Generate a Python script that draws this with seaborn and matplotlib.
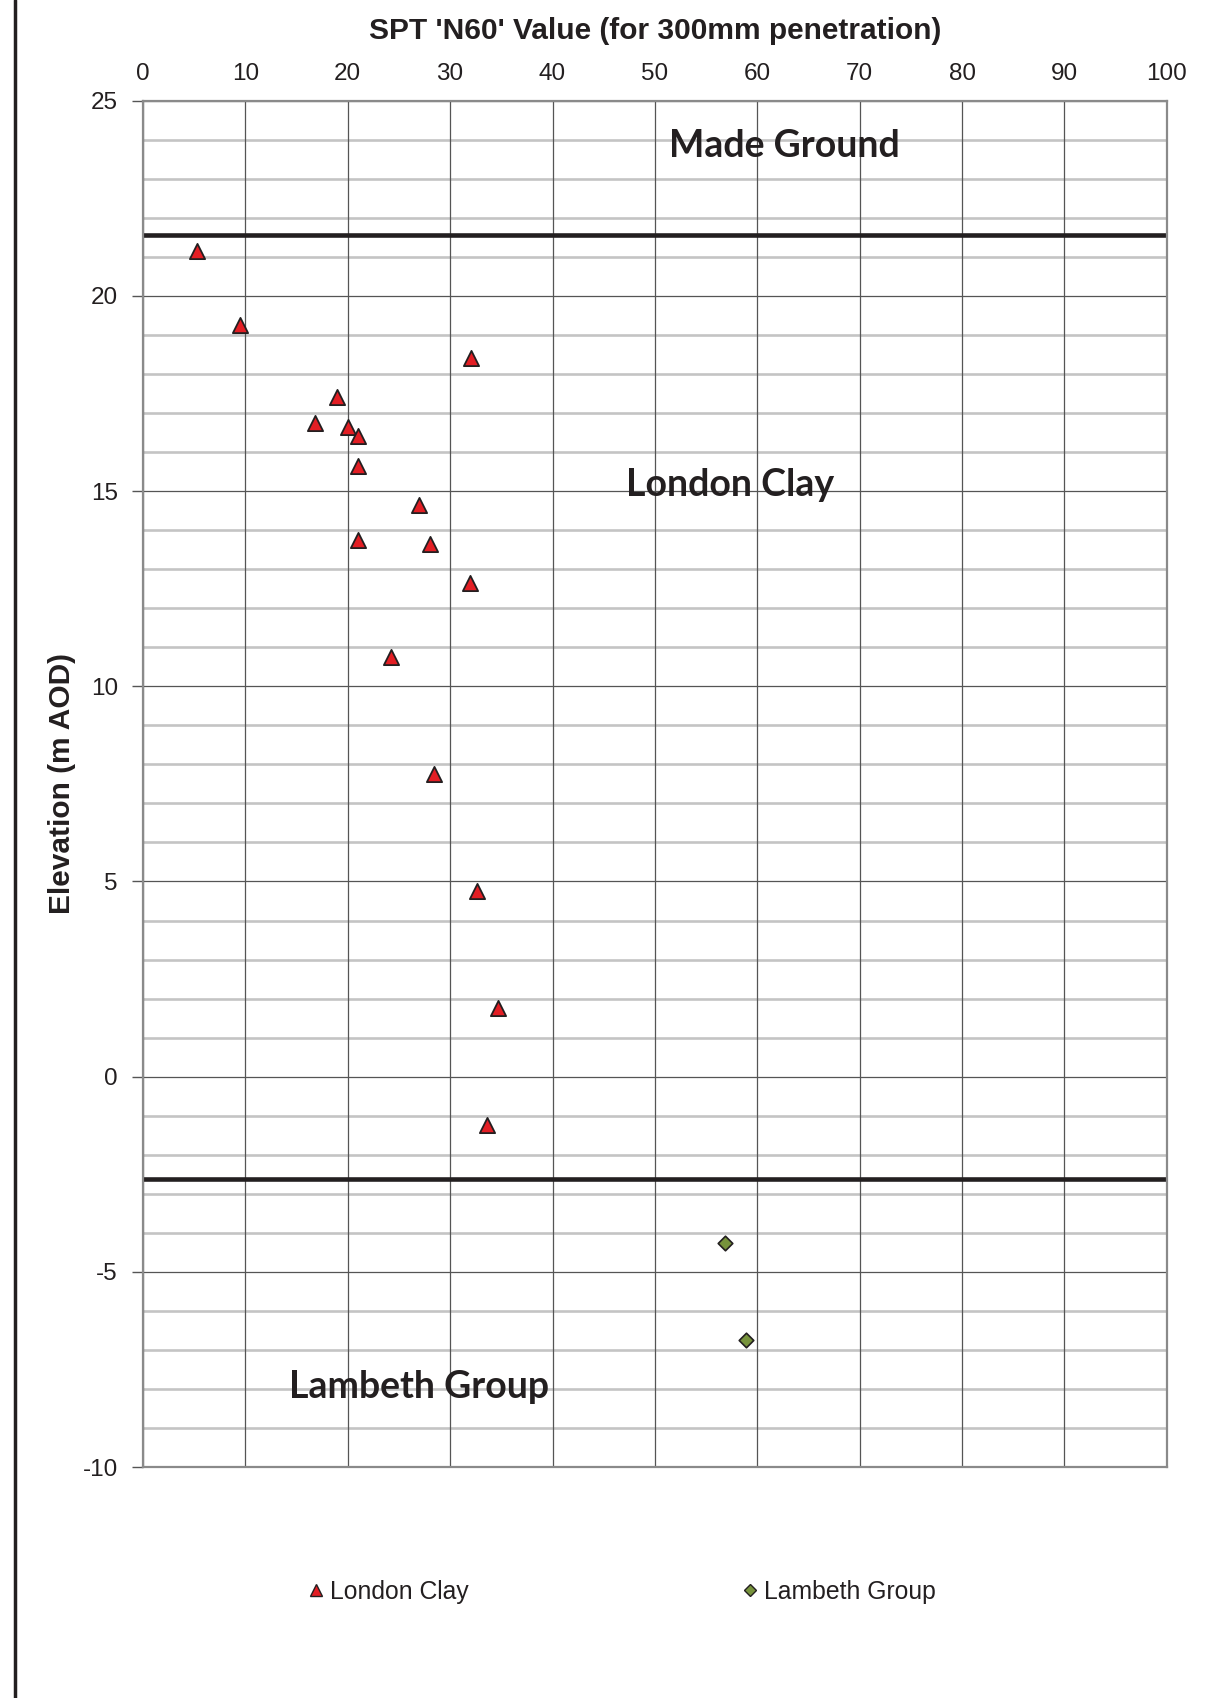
import matplotlib
matplotlib.use("Agg")
import matplotlib.pyplot as plt
from matplotlib.lines import Line2D
import seaborn as sns
import pandas as pd
import numpy as np

# ---- data ----
lc_n60 = [5.3, 9.5, 32.0, 19.0, 16.8, 20.0, 21.0, 21.0, 27.0, 21.0, 28.0, 31.9, 24.2, 28.4, 32.6, 34.7, 33.6]
lc_elev = [21.15, 19.25, 18.4, 17.4, 16.75, 16.65, 16.4, 15.65, 14.65, 13.75, 13.65, 12.65, 10.75, 7.75, 4.75, 1.75, -1.25]
lg_n60 = [56.8, 58.9]
lg_elev = [-4.25, -6.75]
boundary_elev = [21.55, -2.62]
strata_labels = ["Made Ground", "London Clay", "Lambeth Group"]
strata_label_x = [62.6, 57.3, 27.0]
strata_label_y = [23.85, 15.15, -7.95]
x_ticks = list(range(0, 101, 10))
y_ticks = list(range(-10, 26, 5))

sns.set_theme(style="white")
plt.rcParams['font.family'] = ['Liberation Sans', 'DejaVu Sans']
plt.rcParams['axes.unicode_minus'] = False

fig = plt.figure(figsize=(12.27, 16.98), dpi=100)
ax = fig.add_axes([0.1165, 0.136, 0.8345, 0.8047])

# gridlines
for y in range(-10, 26):
    if y % 5 == 0:
        ax.axhline(y, color="#555555", lw=0.9, zorder=1)
    else:
        ax.axhline(y, color="#c4c4c4", lw=1.9, zorder=1)
for x in x_ticks:
    ax.axvline(x, color="#555555", lw=0.9, zorder=1)

for b in boundary_elev:
    ax.axhline(b, color="#231f20", lw=3.3, zorder=2)

df_lc = pd.DataFrame({"N60": lc_n60, "Elevation": lc_elev, "Stratum": "London Clay"})
df_lg = pd.DataFrame({"N60": lg_n60, "Elevation": lg_elev, "Stratum": "Lambeth Group"})
sns.scatterplot(data=df_lc, x="N60", y="Elevation", marker="^", color="#e31e24",
                edgecolor="#231f20", linewidth=1.3, s=120, ax=ax, zorder=4, legend=False)
sns.scatterplot(data=df_lg, x="N60", y="Elevation", marker="D", color="#77933c",
                edgecolor="#231f20", linewidth=1.2, s=55, ax=ax, zorder=4, legend=False)

ax.set_xlim(0, 100)
ax.set_ylim(-10, 25)
ax.set_xticks(x_ticks)
ax.set_yticks(y_ticks)
ax.xaxis.tick_top()
ax.xaxis.set_label_position("top")
ax.tick_params(axis="x", length=0, labelsize=17.5, pad=11, colors="#231f20")
ax.tick_params(axis="y", left=True, length=8, width=1, color="#555555", labelsize=17.5, pad=10, labelcolor="#231f20")
ax.set_xlabel("SPT 'N60' Value (for 300mm penetration)", fontsize=21.5, fontweight="bold", labelpad=17.5, color="#231f20")
ax.set_ylabel("Elevation (m AOD)", fontsize=21.5, fontweight="bold", labelpad=5, color="#231f20")
for s in ax.spines.values():
    s.set_color("#8a8a8a")
    s.set_linewidth(1.6)
    s.set_zorder(5)

for lab, lx, ly in zip(strata_labels, strata_label_x, strata_label_y):
    ax.text(lx, ly, lab, ha="center", va="center", fontsize=27, fontweight="bold",
            color="#231f20", family=["Lato", "DejaVu Sans"], zorder=6)

handles = [
    Line2D([], [], marker="^", ls="none", markerfacecolor="#e31e24", markeredgecolor="#231f20",
           markeredgewidth=1.0, markersize=9),
    Line2D([], [], marker="D", ls="none", markerfacecolor="#77933c", markeredgecolor="#231f20",
           markeredgewidth=1.0, markersize=6.5),
]
fig.legend(handles, ["London Clay", "Lambeth Group"], loc="center", bbox_to_anchor=(0.505, 0.0625),
           ncol=2, frameon=False, fontsize=17.8, columnspacing=10.9, handletextpad=0.05,
           handlelength=1.0, labelcolor="#231f20")

fig.add_artist(Line2D([0.0125, 0.0125], [0, 1], transform=fig.transFigure, color="#231f20", lw=2.5))

fig.savefig("out.png", dpi=100)
